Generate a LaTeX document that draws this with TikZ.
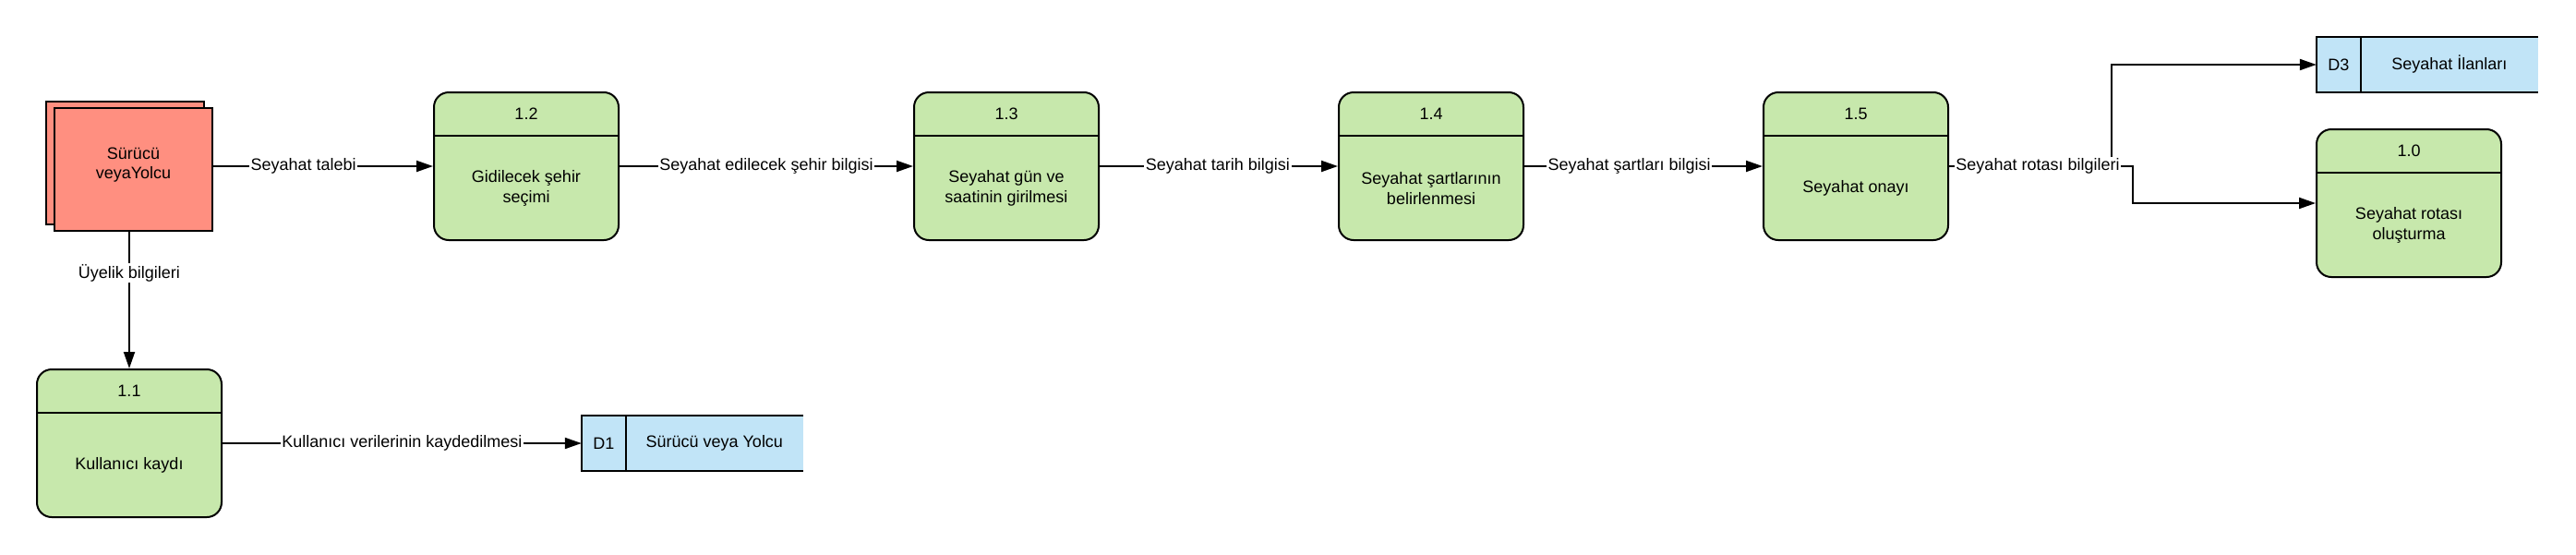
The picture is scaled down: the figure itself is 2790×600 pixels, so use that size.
\documentclass[tikz,border=0pt]{standalone}
\usepackage{fontspec}
\setmainfont{Liberation Sans}
\usetikzlibrary{arrows.meta}
\definecolor{procgreen}{HTML}{C7E8AC}
\definecolor{entred}{HTML}{FF8F80}
\definecolor{storeblue}{HTML}{C1E4F7}
\tikzset{
  proc/.style={draw, line width=2pt, fill=procgreen, rounded corners=16pt, minimum width=200pt, minimum height=160pt, inner sep=0pt},
  ent/.style={draw, line width=2pt, fill=entred, minimum width=171pt, minimum height=133pt, inner sep=0pt},
  store/.style={fill=storeblue, minimum width=240pt, minimum height=60pt, inner sep=0pt},
  flow/.style={-{Triangle[length=18pt,width=12pt]}, line width=2pt},
  lbl/.style={fill=white, inner sep=1.5pt},
  edge/.style={line width=2pt}
}
\newcommand{\procbox}[4]{%
  \node[proc] (#1) at (#2) {};
  \draw[edge] ([yshift=-48pt]#1.north west) -- ([yshift=-48pt]#1.north east);
  \node at ([yshift=-24pt]#1.north) {#3};
  \node[align=center] at ([yshift=-24pt]#1.center) {#4};
}
\newcommand{\storebox}[4]{%
  \node[store] (#1) at (#2) {};
  \draw[edge] (#1.north east) -- (#1.north west) -- (#1.south west) -- (#1.south east);
  \draw[edge] ([xshift=48pt]#1.north west) -- ([xshift=48pt]#1.south west);
  \node at ([xshift=24pt]#1.west) {#3};
  \node at ([xshift=144pt]#1.west) {#4};
}
\begin{document}
\begin{tikzpicture}[x=1pt, y=-1pt, font=\fontsize{18}{21.6}\selectfont]
\useasboundingbox (0,0) rectangle (2790,600);

% external entity
\node[ent] (entb) at (135.5,176.5) {};
\node[ent] (ent) at (144.5,183.5) {};
\node[align=center] (entt) at ([yshift=5pt]ent.center) {Sürücü\\veyaYolcu};

% processes
\procbox{p11}{140,480}{1.1}{Kullanıcı kaydı}
\procbox{p12}{570,180}{1.2}{Gidilecek şehir\\seçimi}
\procbox{p13}{1090,180}{1.3}{Seyahat gün ve\\saatinin girilmesi}
\procbox{p14}{1550,180}{1.4}{Seyahat şartlarının\\belirlenmesi}
\procbox{p15}{2010,180}{1.5}{Seyahat onayı}
\procbox{p10}{2609,220}{1.0}{Seyahat rotası\\oluşturma}

% data stores
\storebox{d1}{750,480}{D1}{Sürücü veya Yolcu}
\storebox{d3}{2629,70}{D3}{Seyahat İlanları}

% flows
\draw[flow] (ent.east |- p12.west) -- node[lbl, pos=0.41] {Seyahat talebi} (p12.west);
\draw[flow] (ent.south -| p11.north) -- node[lbl, pos=0.3] {Üyelik bilgileri} (p11.north);
\draw[flow] (p11.east) -- node[lbl, pos=0.5] {Kullanıcı verilerinin kaydedilmesi} (d1.west);
\draw[flow] (p12.east) -- node[lbl, pos=0.5] {Seyahat edilecek şehir bilgisi} (p13.west);
\draw[flow] (p13.east) -- node[lbl, pos=0.496] {Seyahat tarih bilgisi} (p14.west);
\draw[flow] (p14.east) -- node[lbl, pos=0.44] {Seyahat şartları bilgisi} (p15.west);

\coordinate (b1) at (2287,180);
\coordinate (b2) at (2310,180);
\draw[flow] (p15.east) -- (b1) |- (d3.west);
\draw[flow] (p15.east) -- (b2) |- (p10.west);
\node[lbl] (rl) at (2207,180) {Seyahat rotası bilgileri};
\end{tikzpicture}
\end{document}
